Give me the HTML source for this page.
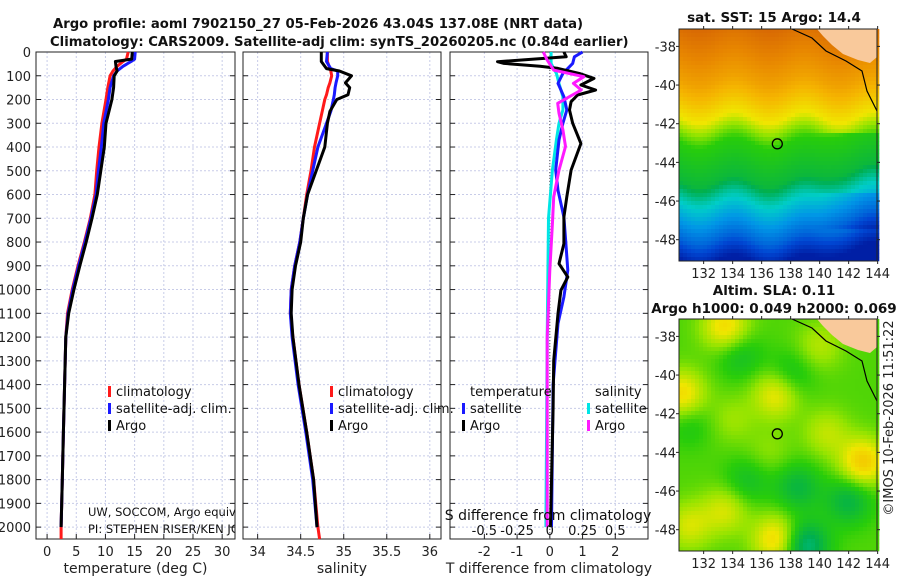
<!DOCTYPE html>
<html><head><meta charset="utf-8">
<style>
html,body{margin:0;padding:0;background:#fff;}
svg{display:block;font-family:"DejaVu Sans","Liberation Sans",sans-serif;}
</style></head>
<body>
<svg id="fig" width="900" height="580" viewBox="0 0 900 580" xmlns="http://www.w3.org/2000/svg">
<g id="titles" font-weight="bold" font-size="13.2" fill="#111">
<text x="53" y="28">Argo profile: aoml 7902150_27 05-Feb-2026 43.04S 137.08E (NRT data)</text>
<text x="50" y="46">Climatology: CARS2009. Satellite-adj clim: synTS_20260205.nc (0.84d earlier)</text>
</g>
<g id="p1"></g>
<g id="p2"></g>
<g id="p3"></g>
<g id="m1"></g>
<g id="m2"></g>
<text x="893" y="418" font-size="13" fill="#222" text-anchor="middle" transform="rotate(-90 893 418)">©IMOS 10-Feb-2026 11:51:22</text>
</svg>
<script>
// ---- data ----
const depthTicks = [0,100,200,300,400,500,600,700,800,900,1000,1100,1200,1300,1400,1500,1600,1700,1800,1900,2000];
const tempTicks = [0,5,10,15,20,25,30];
const salTicks = [34,34.5,35,35.5,36];
const salTickLabels = ["34","34.5","35","35.5","36"];
const dtTicks = [-2,-1,0,1,2];
const dsTicks = [-0.5,-0.25,0,0.25,0.5];
const dsTickLabels = ["-0.5","-0.25","0","0.25","0.5"];

const climDepth = [0,30,40,60,80,100,150,200,300,400,500,600,700,800,900,1000,1100,1200,1300,1400,1600,1800,2000,2050];
const tClim = [13.9,13.6,13.0,12.0,11.3,10.8,10.4,10.1,9.4,8.9,8.5,8.2,7.4,6.4,5.3,4.3,3.5,3.2,3.1,3.0,2.8,2.6,2.4,2.4];
const tDepth = [0,30,40,60,80,100,150,200,300,400,500,600,700,800,900,1000,1100,1200,1300,1400,1600,1800,2000];
const tSat = [15.1,15.0,14.4,13.0,12.0,11.4,10.8,10.5,9.7,9.3,8.8,8.4,7.5,6.5,5.4,4.4,3.6,3.2,3.1,3.0,2.8,2.6,2.4];
const tArgo = [14.6,14.5,11.7,11.8,12.0,11.5,11.4,11.1,10.1,9.8,9.2,8.6,7.7,6.7,5.6,4.6,3.7,3.2,3.1,3.0,2.8,2.6,2.4];

const sClimDepth = [0,40,70,80,100,130,150,180,200,250,300,400,500,600,700,800,900,1000,1100,1200,1400,1600,1800,2000,2050];
const sClim = [34.81,34.81,34.84,34.85,34.86,34.84,34.82,34.80,34.78,34.75,34.72,34.66,34.62,34.57,34.53,34.49,34.43,34.39,34.38,34.41,34.48,34.57,34.65,34.70,34.72];
const sDepth = [0,40,70,80,100,130,150,180,200,250,300,400,500,600,700,800,900,1000,1100,1200,1400,1600,1800,2000];
const sSat = [34.81,34.80,34.85,34.93,34.93,34.91,34.90,34.89,34.88,34.85,34.80,34.70,34.64,34.58,34.53,34.49,34.43,34.39,34.38,34.40,34.47,34.56,34.64,34.69];
const sArgo = [34.74,34.74,34.80,34.95,35.09,35.02,35.07,35.05,34.92,34.84,34.81,34.78,34.68,34.58,34.53,34.50,34.44,34.40,34.39,34.41,34.48,34.57,34.65,34.69];

const dtArgoDepth = [0,20,41,48,60,69,90,111,139,160,181,209,244,300,385,497,610,695,807,891,947,1003,1101,1300,1500,2000];
const dtArgo = [0.43,0.5,-1.6,-1.4,-0.3,0.25,0.9,1.35,0.95,1.4,0.85,0.65,0.6,0.7,0.95,0.65,0.52,0.43,0.43,0.28,0.55,0.34,0.25,0.12,0.1,0.02];
const dtSatDepth = [0,20,48,90,132,188,244,300,370,497,582,695,807,919,1031,1143,1400,2000];
const dtSat = [1.0,0.75,0.7,0.4,0.25,0.43,0.52,0.4,0.28,0.18,0.25,0.43,0.49,0.55,0.43,0.25,0.1,0.05];
const dsArgoDepth = [0,34,76,104,132,160,216,258,328,398,497,610,723,821,919,1200,2000];
const dsArgo = [-0.05,-0.02,0.03,0.26,0.18,0.24,0.06,0.07,0.1,0.12,0.07,0.03,0.02,0.01,0,-0.02,-0.02];
const dsSatDepth = [0,48,90,132,188,244,300,370,497,700,1200,2000];
const dsSat = [0.01,0.01,0.05,0.07,0.1,0.1,0.07,0.05,0.02,-0.01,-0.02,-0.03];

const latTicks = [-38,-40,-42,-44,-46,-48];
const lonTicks = [132,134,136,138,140,142,144];

// ---- helpers ----
const NS = "http://www.w3.org/2000/svg";
function mk(parent, tag, attrs, txt){
  const e = document.createElementNS(NS, tag);
  for (const k in attrs) e.setAttribute(k, attrs[k]);
  if (txt !== undefined) e.textContent = txt;
  parent.appendChild(e);
  return e;
}
const TOP = 52, BOT = 539;
const yD = d => TOP + d * (BOT - TOP) / 2050;

function panel(g, x0, x1, xmin, xmax, xticks, xlabels, xtitle, showY){
  const sx = v => x0 + (v - xmin) * (x1 - x0) / (xmax - xmin);
  for (const d of depthTicks){
    const gl = mk(g, "line", {x1:x0, x2:x1, y1:yD(d), y2:yD(d), stroke:"#c8cce8", "stroke-width":1, "stroke-dasharray":"2,2"});
    
    
    for (const xx of [x0, x1]){
      const t = mk(g, "line", {x1:xx, x2:xx + (xx===x0?5:-5), y1:yD(d), y2:yD(d), stroke:"#222"});
      
      
    }
    if (showY){
      const lb = mk(g, "text", {x:x0-5, y:yD(d)+5, "font-size":13, "text-anchor":"end", fill:"#222"}, String(d));
      
      
    }
  }
  xticks.forEach((v,i) => {
    const gl = mk(g, "line", {x1:sx(v), x2:sx(v), y1:TOP, y2:BOT, stroke:"#c8cce8", "stroke-width":1, "stroke-dasharray":"2,2"});
    
    
    const t = mk(g, "line", {x1:sx(v), x2:sx(v), y1:BOT, y2:BOT-5, stroke:"#222"});
    
    
    const lb = mk(g, "text", {x:sx(v), y:556, "font-size":13, "text-anchor":"middle", fill:"#222"}, xlabels[i]);
    
    
  });
  const fr = mk(g, "rect", {x:x0, y:TOP, width:x1-x0, height:BOT-TOP, fill:"none", stroke:"#222", "stroke-width":1});
  
  
  const xt = mk(g, "text", {x:(x0+x1)/2, y:573, "font-size":14, "text-anchor":"middle", fill:"#222"}, xtitle);
  
  
  return sx;
}
function series(g, sx, depths, vals, color, name, w){
  const pts = depths.map((d,i) => sx(vals[i]).toFixed(1) + "," + yD(d).toFixed(1)).join(" ");
  const p = mk(g, "polyline", {points:pts, fill:"none", stroke:color, "stroke-width":w||3, "stroke-linejoin":"round"});
  
  
}
function legend(g, x, y, color, label){
  const m = mk(g, "rect", {x:x, y:y-9, width:3, height:11, fill:color});
  
  
  const t = mk(g, "text", {x:x+8, y:y+1, "font-size":13, fill:"#111"}, label);
  
  
}

// ---- panel 1: temperature ----
const g1 = document.getElementById("p1");
const sx1 = panel(g1, 36, 235, -1.9, 32.2, tempTicks, tempTicks.map(String), "temperature (deg C)", true);
series(g1, sx1, climDepth, tClim, "#ff1a1a", "temperature-climatology-line");
series(g1, sx1, tDepth, tSat, "#1a1aff", "temperature-satellite-line");
series(g1, sx1, tDepth, tArgo, "#000", "temperature-argo-line");
legend(g1, 108, 395, "#ff1a1a", "climatology");
legend(g1, 108, 412, "#1a1aff", "satellite-adj. clim.");
legend(g1, 108, 429, "#000", "Argo");
const cp = mk(g1, "clipPath", {id:"c1"}); mk(cp, "rect", {x:36, y:490, width:199, height:50});
const inf = mk(g1, "g", {"clip-path":"url(#c1)", "font-size":11.5, fill:"#111"});


mk(inf, "text", {x:88, y:516}, "UW, SOCCOM, Argo equivalent");
mk(inf, "text", {x:88, y:533}, "PI: STEPHEN RISER/KEN JOHNSON");

// ---- panel 2: salinity ----
const g2 = document.getElementById("p2");
const sx2 = panel(g2, 243, 441, 33.83, 36.13, salTicks, salTickLabels, "salinity", false);
series(g2, sx2, sClimDepth, sClim, "#ff1a1a", "salinity-climatology-line");
series(g2, sx2, sDepth, sSat, "#1a1aff", "salinity-satellite-line");
series(g2, sx2, sDepth, sArgo, "#000", "salinity-argo-line");
legend(g2, 330, 395, "#ff1a1a", "climatology");
legend(g2, 330, 412, "#1a1aff", "satellite-adj. clim.");
legend(g2, 330, 429, "#000", "Argo");

// ---- panel 3: differences ----
const g3 = document.getElementById("p3");
const sx3 = panel(g3, 450, 648, -3.05, 3.0, dtTicks, dtTicks.map(String), "T difference from climatology", false);
const sxS = v => sx3(v * 4);
const zl = mk(g3, "line", {x1:sx3(0), x2:sx3(0), y1:TOP, y2:BOT, stroke:"#555", "stroke-dasharray":"1,2"});


series(g3, sxS, dsSatDepth, dsSat, "#00e5e5", "salinity-diff-satellite-line");
series(g3, sx3, dtSatDepth, dtSat, "#1a1aff", "temperature-diff-satellite-line");
series(g3, sx3, dtArgoDepth, dtArgo, "#000", "temperature-diff-argo-line");
series(g3, sxS, dsArgoDepth, dsArgo, "#ff1aff", "salinity-diff-argo-line");
const lt = mk(g3, "text", {x:470, y:396, "font-size":13, fill:"#111"}, "temperature");
 
const ls = mk(g3, "text", {x:595, y:396, "font-size":13, fill:"#111"}, "salinity");
 
legend(g3, 462, 412, "#1a1aff", "satellite");
legend(g3, 462, 429, "#000", "Argo");
legend(g3, 587, 412, "#00e5e5", "satellite");
legend(g3, 587, 429, "#ff1aff", "Argo");
const sdt = mk(g3, "text", {x:548, y:520, "font-size":14, "text-anchor":"middle", fill:"#111"}, "S difference from climatology");
 
dsTicks.forEach((v,i) => {
  const t = mk(g3, "text", {x:sxS(v), y:535, "font-size":13, "text-anchor":"middle", fill:"#111"}, dsTickLabels[i]);
  
  
});

// ---- maps ----
const cmapStops = [[0,[0,18,150]],[0.12,[0,70,210]],[0.25,[0,150,230]],[0.35,[0,205,200]],[0.45,[0,175,80]],[0.55,[40,205,10]],[0.62,[150,228,0]],[0.7,[240,230,0]],[0.8,[245,180,0]],[0.9,[232,135,0]],[1,[205,85,5]]];
function cmap(v){
  v = Math.max(0, Math.min(1, v));
  for (let i=1;i<cmapStops.length;i++){
    if (v <= cmapStops[i][0]){
      const a = cmapStops[i-1], b = cmapStops[i], f = (v-a[0])/(b[0]-a[0]);
      return "rgb(" + a[1].map((c,j)=>Math.round(c+(b[1][j]-c)*f)).join(",") + ")";
    }
  }
  return "rgb(205,85,5)";
}
const sstLat = [-37.1,-38.5,-39.8,-40.8,-41.7,-42.3,-43,-45,-45.8,-47,-48,-48.7,-49.1];
const sstVal = [0.95,0.9,0.84,0.77,0.7,0.62,0.55,0.48,0.38,0.26,0.17,0.08,0.03];
const slaBlobs = [[-37.5,133.5,0.15],[-41,130.5,0.15],[-41,137,0.13],[-44.5,143,0.18],[-48.5,137,0.16],[-47.8,131,0.1],[-40,138,-0.07],[-39,134.5,-0.07],[-45.5,135,-0.07],[-45.8,138.5,-0.1],[-46.5,142,-0.11],[-48.8,139,-0.17],[-42.5,131,-0.05],[-38.5,140,0.07],[-43,140.5,0.08],[-47,133.5,0.1],[-42.3,134,0.05],[-44,136.5,0.04]];
function interp(xs, ys, x){
  for (let i=1;i<xs.length;i++) if (x >= xs[i]) { const f=(x-xs[i-1])/(xs[i]-xs[i-1]); return ys[i-1]+(ys[i]-ys[i-1])*f; }
  return ys[ys.length-1];
}
function drawMap(g, top, field, titles){
  const L=679, R=877, B=top+232;
  const lonAt = x => 130.3 + (x-L)/14.5;
  const latAt = y => -37.1 - (y-top)/19.33;
  const cells = mk(g, "g", {});
  
  
  for (let y=top; y<B; y+=4){
    for (let x=L; x<R; x+=4){
      mk(cells, "rect", {x:x, y:y, width:4.3, height:4.3, fill:cmap(field(lonAt(x+2), latAt(y+2)))});
    }
  }
  const land = mk(g, "polygon", {points:`817,${top} ${R},${top} ${R},${top+28} 870,${top+34} 858,${top+31} 843,${top+25} 832,${top+16} 823,${top+7}`, fill:"#f9c99b"});
  
  
  const coast = mk(g, "polyline", {points:`792,${top} 812,${top+9} 826,${top+22} 846,${top+32} 862,${top+42} 867,${top+62} 872,${top+72} ${R},${top+82}`, fill:"none", stroke:"#000", "stroke-width":1.2});
  
  
  const pt = mk(g, "circle", {cx: L + (137.08-130.3)*14.5, cy: top + (43.04-37.1)*19.33, r:5, fill:"none", stroke:"#000", "stroke-width":1.3});
  
  
  const fr = mk(g, "rect", {x:L, y:top, width:R-L, height:B-top, fill:"none", stroke:"#222"});
  
  
  for (const la of latTicks){
    const y = top + (-37.1 - la)*19.33;
    mk(g, "line", {x1:L-3, x2:L, y1:y, y2:y, stroke:"#222"});
    mk(g, "line", {x1:R, x2:R+3, y1:y, y2:y, stroke:"#222"});
    const t = mk(g, "text", {x:L-3, y:y+5, "font-size":13, "text-anchor":"end", fill:"#222"}, String(la));
    
    
  }
  for (const lo of lonTicks){
    const x = L + (lo-130.3)*14.5;
    mk(g, "line", {x1:x, x2:x, y1:B, y2:B+3, stroke:"#222"});
    mk(g, "line", {x1:x, x2:x, y1:top-3, y2:top, stroke:"#222"});
    const t = mk(g, "text", {x:x, y:B+17, "font-size":13, "text-anchor":"middle", fill:"#222"}, String(lo));
    
    
  }
  titles.forEach(([txt, y]) => {
    const t = mk(g, "text", {x:774, y:y, "font-size":13.5, "font-weight":"bold", "text-anchor":"middle", fill:"#111"}, txt);
    
    
  });
}
drawMap(document.getElementById("m1"), 29, (lon, lat) => {
  const east = 1/(1+Math.exp(-(lon-140.5)*2));
  const shift = 0.3*Math.sin(lon*1.3) + (lat < -42.5 ? -0.7*east : 0) + (lat < -45.5 && lat > -47.5 ? -0.5*east : 0);
  return interp(sstLat, sstVal, lat + shift);
}, [["sat. SST: 15 Argo: 14.4", 22]]);
drawMap(document.getElementById("m2"), 319, (lon, lat) => {
  let v = 0.575;
  for (const [bl, bo, a] of slaBlobs){ const d2 = (lat-bl)*(lat-bl) + (lon-bo)*(lon-bo)*0.6; v += a*Math.exp(-d2/1.5); }
  return v;
}, [["Altim. SLA: 0.11", 295], ["Argo h1000: 0.049 h2000: 0.069", 313]]);
</script>
</body></html>
